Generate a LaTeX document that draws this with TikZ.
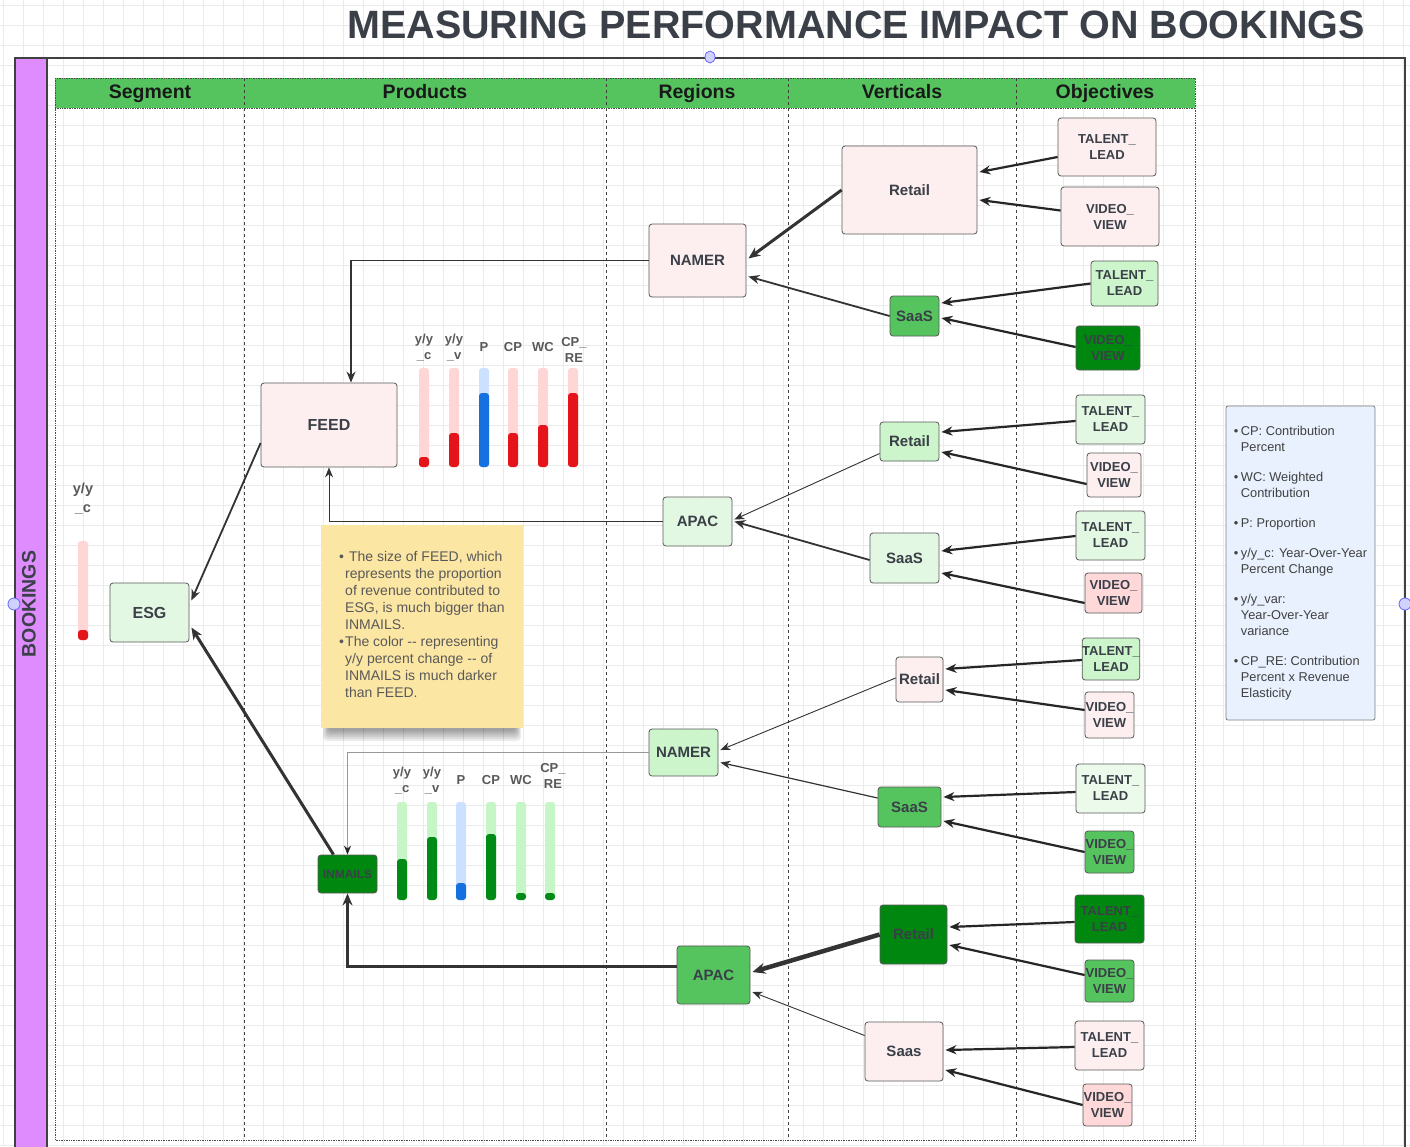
\documentclass[tikz,border=0pt]{standalone}
\usepackage{fontspec}
\setmainfont{Liberation Sans}
\usetikzlibrary{arrows.meta,calc}
\definecolor{ink}{HTML}{3A3F48}
\definecolor{pinkA}{HTML}{FDEFEF}
\definecolor{pinkB}{HTML}{FFD9D9}
\definecolor{grnA}{HTML}{E3F8E3}
\definecolor{grnB}{HTML}{CCF5CC}
\definecolor{grnC}{HTML}{55C45F}
\definecolor{grnD}{HTML}{00870F}
\definecolor{hdr}{HTML}{55C45F}
\definecolor{barRed}{HTML}{E5131A}
\definecolor{barPink}{HTML}{FFD6D6}
\definecolor{barBlue}{HTML}{1570E0}
\definecolor{barBlueL}{HTML}{CCE0FF}
\definecolor{barGrn}{HTML}{008A16}
\definecolor{barGrnL}{HTML}{C6F5C6}
\definecolor{noteY}{HTML}{FCE6A4}
\definecolor{legB}{HTML}{E8F1FD}
\definecolor{purp}{HTML}{DF8CFF}
\newcommand{\mybar}[6]{%
  \fill[#5,rounded corners=3pt] (#1-5,#2) rectangle (#1+5,#4);
  \fill[#6,rounded corners=3pt] (#1-5,#3) rectangle (#1+5,#4);}
\tikzset{
  box/.style={draw=black!65, line width=0.8pt, rounded corners=3pt, inner sep=0pt,
    align=center, font=\bfseries\fontsize{15}{17}\selectfont, text=ink},
  obj/.style={box, font=\bfseries\fontsize{13}{16}\selectfont},
  hdrtext/.style={anchor=base, font=\bfseries\fontsize{19.5}{22}\selectfont, text=black!90},
  barlbl/.style={font=\bfseries\fontsize{13}{16}\selectfont, text=black!65, align=center},
  arrO/.style={draw=black!85, line width=2.2pt, -{Stealth[length=11pt,width=9pt]}},
  arrT/.style={draw=black!80, line width=0.9pt, -{Stealth[length=10pt,width=8pt]}},
  arrM/.style={draw=black!80, line width=1.8pt, -{Stealth[length=11pt,width=9pt]}},
  arrK/.style={draw=black!80, line width=3pt, -{Stealth[length=12pt,width=10pt]}},
  handle/.style={fill=blue!18, draw=blue!60, line width=0.8pt},
}
\begin{document}
\begin{tikzpicture}[x=1pt,y=-1pt]
\useasboundingbox (0,0) rectangle (1410,1146);
\fill[white] (0,0) rectangle (1410,1146);
% grid
\foreach \i in {3,23,...,1410} \draw[black!8, line width=0.5pt] (\i,0) -- (\i,1146);
\foreach \j in {5,25,...,1146} \draw[black!8, line width=0.5pt] (0,\j) -- (1410,\j);

% title
\node[font=\bfseries\fontsize{39.5}{44}\selectfont, text=ink] (title) at (856,25) {MEASURING PERFORMANCE IMPACT ON BOOKINGS};

% pool
\fill[purp] (15,58) rectangle (47,1150);
\draw[black!75, line width=1.2pt] (15,1150) -- (15,58) -- (1405,58) -- (1405,1150);
\draw[black!75, line width=1.2pt] (47,58) -- (47,1150);
\node[rotate=90, font=\bfseries\fontsize{19.5}{22}\selectfont, text=ink] (bk) at (29,604) {BOOKINGS};

% lanes
\fill[hdr] (55,78) rectangle (1195,108);
\draw[densely dotted, black!70, line width=0.7pt] (55,78) rectangle (1195,1140);
\draw[densely dotted, black!70, line width=0.7pt] (55,108) -- (1195,108);
\foreach \x in {244,606,788,1016} \draw[dashed, black!75, line width=0.6pt] (\x,78) -- (\x,1140);
\node[hdrtext] (h1) at (150,98) {Segment};
\node[hdrtext] (h2) at (425,98) {Products};
\node[hdrtext] (h3) at (697,98) {Regions};
\node[hdrtext] (h4) at (902,98) {Verticals};
\node[hdrtext] (h5) at (1105,98) {Objectives};

% handles
\draw[handle] (710,57) ellipse [x radius=5, y radius=6];
\draw[handle] (14,604) ellipse [x radius=6, y radius=6];
\draw[handle] (1405,604) ellipse [x radius=6, y radius=6];

% segment / product nodes
\node[box, fill=pinkA, minimum width=136, minimum height=84, font=\bfseries\fontsize{16}{18}\selectfont] (FEED) at (329,425) {FEED};
\node[box, fill=grnA, minimum width=79, minimum height=59, font=\bfseries\fontsize{16}{18}\selectfont] (ESG) at (149.5,612.5) {ESG};
\node[box, fill=grnD, minimum width=59, minimum height=38, font=\bfseries\fontsize{12}{14}\selectfont] (INMAILS) at (347.5,874) {INMAILS};

% regions
\node[box, fill=pinkA, minimum width=97, minimum height=73] (NAMER1) at (697.5,260.5) {NAMER};
\node[box, fill=grnA, minimum width=69, minimum height=49] (APAC1) at (697.5,521.5) {APAC};
\node[box, fill=grnB, minimum width=69, minimum height=47] (NAMER2) at (683.5,752.5) {NAMER};
\node[box, fill=grnC, minimum width=73, minimum height=58] (APAC2) at (713.5,975) {APAC};

% verticals
\node[box, fill=pinkA, minimum width=135, minimum height=88] (Retail1) at (909.5,190) {Retail};
\node[box, fill=grnC, minimum width=49, minimum height=40] (SaaS1) at (914.5,316) {SaaS};
\node[box, fill=grnB, minimum width=59, minimum height=39] (Retail2) at (909.5,441.5) {Retail};
\node[box, fill=grnA, minimum width=69, minimum height=50] (SaaS2) at (904.5,558) {SaaS};
\node[box, fill=pinkA, minimum width=47, minimum height=45] (Retail3) at (919.5,679.5) {Retail};
\node[box, fill=grnC, minimum width=63, minimum height=40] (SaaS3) at (909.5,807) {SaaS};
\node[box, fill=grnD, minimum width=67, minimum height=59] (Retail4) at (913.5,934.5) {Retail};
\node[box, fill=pinkA, minimum width=78, minimum height=59] (Saas4) at (904,1051.5) {Saas};

% objectives
\node[obj, fill=pinkA, minimum width=98, minimum height=58] (o1) at (1107,147) {TALENT\_\\LEAD};
\node[obj, fill=pinkA, minimum width=98, minimum height=59] (o2) at (1110,216.5) {VIDEO\_\\VIEW};
\node[obj, fill=grnB, minimum width=67, minimum height=45] (o3) at (1124.5,283.5) {TALENT\_\\LEAD};
\node[obj, fill=grnD, minimum width=64, minimum height=44] (o4) at (1108,348) {VIDEO\_\\VIEW};
\node[obj, fill=grnA, minimum width=69, minimum height=49] (o5) at (1110.5,419.5) {TALENT\_\\LEAD};
\node[obj, fill=pinkA, minimum width=54, minimum height=44] (o6) at (1114,475) {VIDEO\_\\VIEW};
\node[obj, fill=grnA, minimum width=69, minimum height=49] (o7) at (1110.5,535.5) {TALENT\_\\LEAD};
\node[obj, fill=pinkB, minimum width=57, minimum height=40] (o8) at (1113.5,593) {VIDEO\_\\VIEW};
\node[obj, fill=grnB, minimum width=50, minimum height=42] (o9) at (1111,659) {TALENT\_\\LEAD};
\node[obj, fill=pinkA, minimum width=49, minimum height=46] (o10) at (1109.5,715) {VIDEO\_\\VIEW};
\node[obj, fill=grnA!70!white, minimum width=69, minimum height=49] (o11) at (1110.5,788.5) {TALENT\_\\LEAD};
\node[obj, fill=grnC, minimum width=49, minimum height=42] (o12) at (1109.5,852) {VIDEO\_\\VIEW};
\node[obj, fill=grnD, minimum width=69, minimum height=48] (o13) at (1109.5,919) {TALENT\_\\LEAD};
\node[obj, fill=grnC, minimum width=49, minimum height=42] (o14) at (1109.5,981) {VIDEO\_\\VIEW};
\node[obj, fill=pinkA, minimum width=69, minimum height=49] (o15) at (1109.5,1045.5) {TALENT\_\\LEAD};
\node[obj, fill=pinkB, minimum width=49, minimum height=42] (o16) at (1107.5,1105) {VIDEO\_\\VIEW};

% objective -> vertical arrows
\draw[arrO] ($(o1.west)+(0,10)$) -- ($(Retail1.east)+(2,-18)$);
\draw[arrO] ($(o2.west)+(0,-6)$) -- ($(Retail1.east)+(2,10)$);
\draw[arrO] ($(o3.west)+(0,0)$) -- ($(SaaS1.east)+(2,-13)$);
\draw[arrO] ($(o4.west)+(0,-1)$) -- ($(SaaS1.east)+(2,2)$);
\draw[arrO] ($(o5.west)+(0,1.5)$) -- ($(Retail2.east)+(2,-9.5)$);
\draw[arrO] ($(o6.west)+(0,9)$) -- ($(Retail2.east)+(2,10.5)$);
\draw[arrO] ($(o7.west)+(0,0.5)$) -- ($(SaaS2.east)+(2,-7)$);
\draw[arrO] ($(o8.west)+(0,10)$) -- ($(SaaS2.east)+(2,15)$);
\draw[arrO] ($(o9.west)+(0,1)$) -- ($(Retail3.east)+(2,-10.5)$);
\draw[arrO] ($(o10.west)+(0,-5)$) -- ($(Retail3.east)+(2,10.5)$);
\draw[arrO] ($(o11.west)+(0,3.5)$) -- ($(SaaS3.east)+(2,-10)$);
\draw[arrO] ($(o12.west)+(0,0)$) -- ($(SaaS3.east)+(2,14)$);
\draw[arrO] ($(o13.west)+(0,3)$) -- ($(Retail4.east)+(2,-7.5)$);
\draw[arrO] ($(o14.west)+(0,-6)$) -- ($(Retail4.east)+(2,10.5)$);
\draw[arrO] ($(o15.west)+(0,1.5)$) -- ($(Saas4.east)+(2,-1.5)$);
\draw[arrO] ($(o16.west)+(0,0)$) -- ($(Saas4.east)+(2,18.5)$);

% vertical -> region arrows
\draw[arrK] (Retail1.west) -- ($(NAMER1.east)+(2,-2)$);
\draw[arrM] (SaaS1.west) -- ($(NAMER1.east)+(2,16)$);
\draw[arrT] ($(Retail2.west)+(0,12)$) -- ($(APAC1.east)+(2,-2)$);
\draw[arrM] ($(SaaS2.west)+(0,2)$) -- ($(APAC1.east)+(2,0)$);
\draw[arrT] ($(Retail3.west)+(0,-1.5)$) -- ($(NAMER2.east)+(2,-2.5)$);
\draw[arrT, line width=1.2pt] ($(SaaS3.west)+(0,-9)$) -- ($(NAMER2.east)+(2,10)$);
\draw[draw=black!80, line width=4.5pt, -{Stealth[length=13pt,width=11pt]}] (Retail4.west) -- ($(APAC2.east)+(2,-3)$);
\draw[arrT] ($(Saas4.west)+(0,-16)$) -- ($(APAC2.east)+(2,17)$);

% region -> product arrows
\draw[arrM] (NAMER1.west) -| ($(FEED.north)+(22,0)$);
\draw[arrT] (APAC1.west) -| (FEED.south);
\draw[draw=black!40, line width=0.7pt, -{Stealth[length=9pt,width=7pt,color=black!85]}] (NAMER2.west) -| (INMAILS.north);
\draw[arrK] ($(APAC2.west)+(0,-9)$) -| (INMAILS.south);

% product -> segment arrows
\draw[arrM] ($(FEED.west)+(0,18)$) -- ($(ESG.east)+(2,-12)$);
\draw[arrK] ($(INMAILS.north)+(-14,0)$) -- ($(ESG.east)+(2,15)$);

% FEED bars
\mybar{424}{368}{457}{467}{barPink}{barRed}
\mybar{454}{368}{433}{467}{barPink}{barRed}
\mybar{484}{368}{393}{467}{barBlueL}{barBlue}
\mybar{513}{368}{433}{467}{barPink}{barRed}
\mybar{543}{368}{425}{467}{barPink}{barRed}
\mybar{573}{368}{393}{467}{barPink}{barRed}
\node[barlbl] (fl1) at (424,348) {y/y\\\_c};
\node[barlbl] (fl2) at (454,348) {y/y\\\_v};
\node[barlbl] (fl3) at (484,347) {P};
\node[barlbl] (fl4) at (513,347) {CP};
\node[barlbl] (fl5) at (543,347) {WC};
\node[barlbl] (fl6) at (574,350) {CP\_\\RE};

% INMAILS bars
\mybar{402}{802}{859}{900}{barGrnL}{barGrn}
\mybar{432}{802}{837}{900}{barGrnL}{barGrn}
\mybar{461}{802}{883}{900}{barBlueL}{barBlue}
\mybar{491}{802}{834}{900}{barGrnL}{barGrn}
\mybar{521}{802}{893}{900}{barGrnL}{barGrn}
\mybar{550}{802}{893}{900}{barGrnL}{barGrn}
\node[barlbl] (il1) at (402,781) {y/y\\\_c};
\node[barlbl] (il2) at (432,781) {y/y\\\_v};
\node[barlbl] (il3) at (461,780) {P};
\node[barlbl] (il4) at (491,780) {CP};
\node[barlbl] (il5) at (521,780) {WC};
\node[barlbl] (il6) at (553,776) {CP\_\\RE};

% ESG bar
\mybar{83}{541}{630}{640}{barPink}{barRed}
\node[barlbl, font=\bfseries\fontsize{14.5}{19}\selectfont] (el1) at (83,499) {y/y\\\_c};

% note shadow (soft)
\foreach \k in {1,...,6}
  \fill[black, opacity=0.07, rounded corners=4pt] (322+\k,700) rectangle (522-\k,743-2*\k);
% note
\node[fill=noteY, minimum width=202, minimum height=203, inner sep=0pt,
  text=black!65, font=\fontsize{14}{17}\selectfont] (note) at (422,626.5)
{\begin{tabular}{@{}p{6pt}@{}l@{}}
\textbullet & \ The size of FEED, which\\
 & represents the proportion\\
 & of revenue contributed to\\
 & ESG, is much bigger than\\
 & INMAILS.\\
\textbullet & The color -{}- representing\\
 & y/y percent change -{}- of\\
 & INMAILS is much darker\\
 & than FEED.
\end{tabular}};

% legend
\node[fill=legB, draw=black!50, line width=0.8pt, rounded corners=2pt, minimum width=149, minimum height=314, inner sep=0pt,
  text=black!75, font=\fontsize{12.8}{16}\selectfont] (legend) at (1300.5,563)
{\begin{tabular}{@{}p{7pt}@{}l@{}}
\textbullet & CP: Contribution\\
 & Percent\\[14pt]
\textbullet & WC: Weighted\\
 & Contribution\\[14pt]
\textbullet & P: Proportion\\[14pt]
\textbullet & y/y\_c: Year-Over-Year\\
 & Percent Change\\[14pt]
\textbullet & y/y\_var:\\
 & Year-Over-Year\\
 & variance\\[14pt]
\textbullet & CP\_RE: Contribution\\
 & Percent x Revenue\\
 & Elasticity
\end{tabular}};
\end{tikzpicture}
\end{document}
